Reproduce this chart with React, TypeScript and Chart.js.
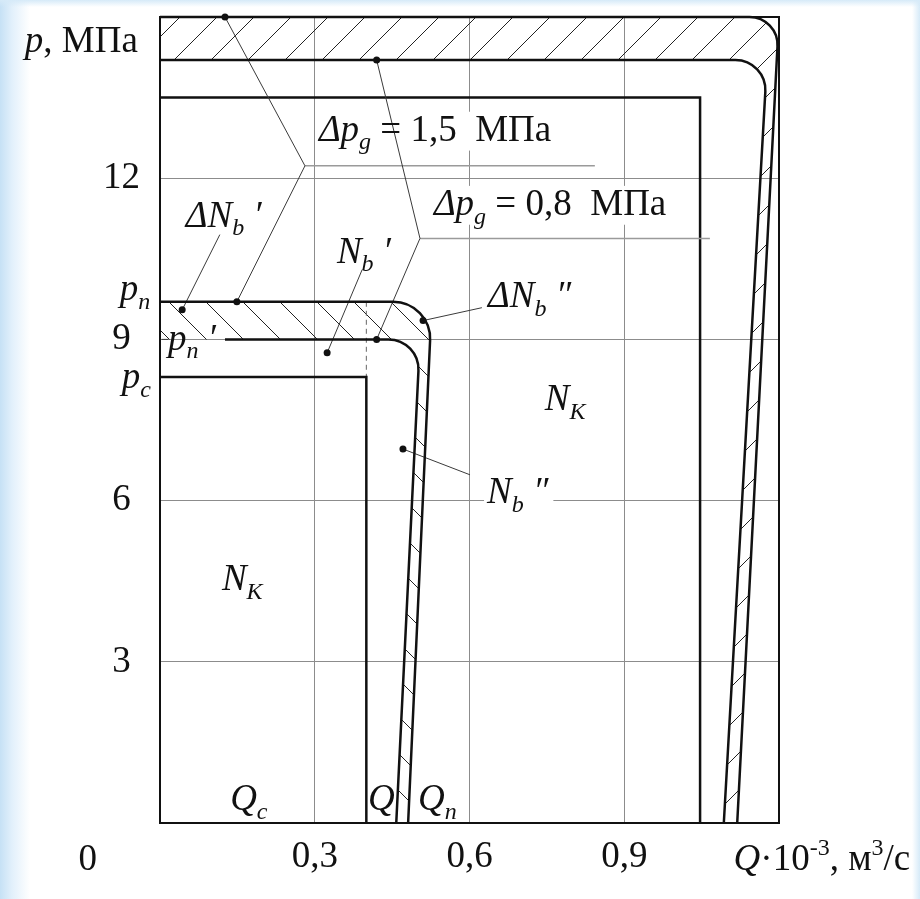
import React, { useEffect, useRef } from 'react';
import { Chart, registerables } from 'chart.js';

Chart.register(...registerables);

// ---------- axes ----------
const Q_MIN = 0;
const Q_MAX = 1.2;
const P_MIN = 0;
const P_MAX = 15;
const xTickValues = [0.3, 0.6, 0.9];
const xTickLabels = ['0,3', '0,6', '0,9'];
const yTickValues = [3, 6, 9, 12];
const yTickLabels = ['3', '6', '9', '12'];

// ---------- characteristic lines (corner vertices; corners are rounded when drawn) ----------
const outerQ = [0, 1.2, 1.119];
const outerP = [15, 15, 0];
const innerQ = [0, 1.177, 1.093];
const innerP = [14.2, 14.2, 0];
const ratedQ = [0, 1.047, 1.047];
const ratedP = [13.5, 13.5, 0];
const pnQ = [0, 0.527, 0.481];
const pnP = [9.7, 9.7, 0];
const pn2Q = [0.126, 0.504, 0.458];
const pn2P = [9.0, 9.0, 0];
const pcQ = [0, 0.4, 0.4];
const pcP = [8.3, 8.3, 0];
const qDashQ = [0.4, 0.4];
const qDashP = [9.7, 8.3];

// ---------- marker dots and leader lines ----------
const dotQ = [0.126, 0.42, 0.149, 0.42, 0.043, 0.324, 0.51, 0.471];
const dotP = [15, 14.2, 9.7, 9.0, 9.55, 8.75, 9.35, 6.96];
const lead1Q = [0.126, 0.281, 0.149];
const lead1P = [15, 12.23, 9.7];
const under1Q = [0.281, 0.843];
const under1P = [12.23, 12.23];
const lead2Q = [0.42, 0.504, 0.42];
const lead2P = [14.2, 10.88, 9.0];
const under2Q = [0.504, 1.066];
const under2P = [10.88, 10.88];
const lead3Q = [0.116, 0.043];
const lead3P = [10.95, 9.55];
const lead4Q = [0.392, 0.324];
const lead4P = [10.3, 8.75];
const lead5Q = [0.624, 0.51];
const lead5P = [9.59, 9.35];
const lead6Q = [0.601, 0.471];
const lead6P = [6.48, 6.96];
const lead7Q = [0.003, 0.016];
const lead7P = [9.0, 9.0];

// ---------- texts ----------
type Seg = { t: string; it?: boolean; sub?: boolean; sup?: boolean };
type Label = { segs: Seg[]; q: number; p: number; bg?: boolean; align?: 'left' | 'center' };

const labelTexts: Label[] = [
  { segs: [{ t: 'p', it: true }, { t: ', МПа' }], q: -0.262, p: 14.34 },
  { segs: [{ t: 'p', it: true }, { t: 'n', it: true, sub: true }], q: -0.078, p: 9.74 },
  { segs: [{ t: 'p', it: true }, { t: 'c', it: true, sub: true }], q: -0.074, p: 8.1 },
  { segs: [{ t: '0' }], q: -0.14, p: -0.88, align: 'center' },
  { segs: [{ t: 'p', it: true }, { t: 'n', it: true, sub: true }, { t: ' ′', it: true }], q: 0.0155, p: 8.81 },
  { segs: [{ t: 'Δ', it: true }, { t: 'p', it: true }, { t: 'g', it: true, sub: true }, { t: ' = 1,5  МПа' }], q: 0.308, p: 12.7, bg: true },
  { segs: [{ t: 'Δ', it: true }, { t: 'p', it: true }, { t: 'g', it: true, sub: true }, { t: ' = 0,8  МПа' }], q: 0.531, p: 11.32, bg: true },
  { segs: [{ t: 'Δ', it: true }, { t: 'N', it: true }, { t: 'b', it: true, sub: true }, { t: ' ′', it: true }], q: 0.05, p: 11.1 },
  { segs: [{ t: 'N', it: true }, { t: 'b', it: true, sub: true }, { t: ' ′', it: true }], q: 0.343, p: 10.43 },
  { segs: [{ t: 'Δ', it: true }, { t: 'N', it: true }, { t: 'b', it: true, sub: true }, { t: ' ″', it: true }], q: 0.636, p: 9.61 },
  { segs: [{ t: 'N', it: true }, { t: 'K', it: true, sub: true }], q: 0.746, p: 7.69 },
  { segs: [{ t: 'N', it: true }, { t: 'b', it: true, sub: true }, { t: ' ″', it: true }], q: 0.634, p: 5.96, bg: true },
  { segs: [{ t: 'N', it: true }, { t: 'K', it: true, sub: true }], q: 0.12, p: 4.34 },
  { segs: [{ t: 'Q', it: true }, { t: 'c', it: true, sub: true }], q: 0.136, p: 0.24 },
  { segs: [{ t: 'Q', it: true }], q: 0.403, p: 0.24 },
  { segs: [{ t: 'Q', it: true }, { t: 'n', it: true, sub: true }], q: 0.5, p: 0.24 },
  {
    segs: [{ t: 'Q', it: true }, { t: '·10' }, { t: '-3', sup: true }, { t: ', м' }, { t: '3', sup: true }, { t: '/с' }],
    q: 1.112,
    p: -0.88,
  },
];

// ---------- styles ----------
const FONT = '"Liberation Serif", "Times New Roman", serif';
const INK = '#111111';
const TEXT_SIZE = 37;
const GRID = '#8c8c8c';

const xy = (qs: number[], ps: number[]) => qs.map((q, i) => ({ x: q, y: ps[i] }));

function fontFor(seg: Seg, size: number) {
  const s = seg.sub || seg.sup ? Math.round(size * 0.66) : size;
  return `${seg.it ? 'italic ' : ''}${s}px ${FONT}`;
}

function measureRich(ctx: CanvasRenderingContext2D, segs: Seg[], size: number) {
  return segs.map((s) => {
    ctx.font = fontFor(s, size);
    return ctx.measureText(s.t).width;
  });
}

function drawRich(ctx: CanvasRenderingContext2D, lb: Label, x: number, y: number, size: number) {
  const widths = measureRich(ctx, lb.segs, size);
  const total = widths.reduce((a, b) => a + b, 0);
  let cx = lb.align === 'center' ? x - total / 2 : x;
  ctx.textBaseline = 'alphabetic';
  ctx.textAlign = 'left';
  ctx.fillStyle = INK;
  lb.segs.forEach((s, i) => {
    ctx.font = fontFor(s, size);
    const dy = s.sub ? size * 0.24 : s.sup ? -size * 0.4 : 0;
    ctx.fillText(s.t, cx, y + dy);
    cx += widths[i];
  });
}

type Pt = { x: number; y: number };

function ptsOf(chart: any, label: string): Pt[] {
  const i = chart.data.datasets.findIndex((d: any) => d.label === label);
  return chart.getDatasetMeta(i).data.map((e: any) => ({ x: e.x, y: e.y }));
}
function radiusOf(chart: any, label: string): number {
  const d = chart.data.datasets.find((d: any) => d.label === label);
  return d ? d.roundRadius || 0 : 0;
}

function trace(ctx: CanvasRenderingContext2D, pts: Pt[], r: number, first: boolean) {
  if (first) ctx.moveTo(pts[0].x, pts[0].y);
  else ctx.lineTo(pts[0].x, pts[0].y);
  for (let i = 1; i < pts.length - 1; i++) ctx.arcTo(pts[i].x, pts[i].y, pts[i + 1].x, pts[i + 1].y, r);
  ctx.lineTo(pts[pts.length - 1].x, pts[pts.length - 1].y);
}

function hatchBand(
  chart: any,
  outerLabel: string,
  innerLabel: string,
  dir: '/' | '\\',
  phase: number,
  step: number
) {
  const ctx: CanvasRenderingContext2D = chart.ctx;
  const area = chart.chartArea;
  const o = ptsOf(chart, outerLabel);
  const inn = ptsOf(chart, innerLabel);
  const axisX = chart.scales.x.getPixelForValue(Q_MIN);
  ctx.save();
  ctx.beginPath();
  trace(ctx, o, radiusOf(chart, outerLabel), true);
  trace(ctx, [...inn].reverse(), radiusOf(chart, innerLabel), false);
  ctx.lineTo(axisX, inn[0].y);
  ctx.closePath();
  ctx.clip();
  ctx.beginPath();
  const { left, right, top, bottom } = area;
  if (dir === '/') {
    const c0 = phase + step * Math.ceil((left + top - 60 - phase) / step);
    for (let c = c0; c <= right + bottom + 60; c += step) {
      ctx.moveTo(c - top, top);
      ctx.lineTo(c - bottom, bottom);
    }
  } else {
    const c0 = phase + step * Math.ceil((left - bottom - 60 - phase) / step);
    for (let c = c0; c <= right - top + 60; c += step) {
      ctx.moveTo(c + top, top);
      ctx.lineTo(c + bottom, bottom);
    }
  }
  ctx.strokeStyle = '#222';
  ctx.lineWidth = 1;
  ctx.stroke();
  ctx.restore();
}

const diagramPlugin = {
  id: 'diagram',
  beforeDatasetsDraw(chart: any) {
    const ctx: CanvasRenderingContext2D = chart.ctx;
    const xs = chart.scales.x;
    const ys = chart.scales.y;
    // white boxes behind some labels (they interrupt grid lines)
    ctx.save();
    ctx.fillStyle = '#ffffff';
    for (const lb of labelTexts) {
      if (!lb.bg) continue;
      const w = measureRich(ctx, lb.segs, TEXT_SIZE).reduce((a, b) => a + b, 0);
      const x = xs.getPixelForValue(lb.q);
      const y = ys.getPixelForValue(lb.p);
      ctx.fillRect(x - 3, y - TEXT_SIZE * 0.78, w + 8, TEXT_SIZE * 1.05);
    }
    ctx.restore();
    hatchBand(chart, 'outer', 'inner', '/', 197, 37);
    hatchBand(chart, 'pn', 'pn2', '\\', -96, 37);
  },
  afterDatasetsDraw(chart: any) {
    const ctx: CanvasRenderingContext2D = chart.ctx;
    const a = chart.chartArea;
    ctx.save();
    // frame
    ctx.strokeStyle = INK;
    ctx.lineWidth = 2;
    ctx.strokeRect(a.left, a.top, a.right - a.left, a.bottom - a.top);
    // rounded characteristic curves
    ctx.lineWidth = 2.5;
    ctx.lineJoin = 'round';
    for (const name of ['outer', 'inner', 'pn', 'pn2']) {
      ctx.beginPath();
      trace(ctx, ptsOf(chart, name), radiusOf(chart, name), true);
      ctx.stroke();
    }
    // texts
    const xs = chart.scales.x;
    const ys = chart.scales.y;
    for (const lb of labelTexts) {
      drawRich(ctx, lb, xs.getPixelForValue(lb.q), ys.getPixelForValue(lb.p), TEXT_SIZE);
    }
    ctx.restore();
  },
};

export default function App() {
  const ref = useRef<HTMLCanvasElement | null>(null);

  useEffect(() => {
    if (!ref.current) return;
    const thin = (label: string, qs: number[], ps: number[], color = '#3a3a3a', width = 1) => ({
      label,
      data: xy(qs, ps),
      showLine: true,
      borderColor: color,
      borderWidth: width,
      pointRadius: 0,
      pointHoverRadius: 0,
      fill: false,
    });
    const hiddenCurve = (label: string, qs: number[], ps: number[], r: number) => ({
      label,
      data: xy(qs, ps),
      showLine: false,
      pointRadius: 0,
      pointHoverRadius: 0,
      roundRadius: r,
    });
    const chart = new Chart(ref.current, {
      type: 'scatter',
      data: {
        datasets: [
          {
            label: 'dots',
            data: xy(dotQ, dotP),
            pointRadius: 3.5,
            pointBackgroundColor: INK,
            pointBorderWidth: 0,
            showLine: false,
            clip: 8,
          } as any,
          thin('lead1', lead1Q, lead1P),
          thin('lead2', lead2Q, lead2P),
          thin('lead3', lead3Q, lead3P),
          thin('lead4', lead4Q, lead4P),
          thin('lead5', lead5Q, lead5P),
          thin('lead6', lead6Q, lead6P),
          thin('lead7', lead7Q, lead7P),
          thin('under1', under1Q, under1P, '#9a9a9a', 1.5),
          thin('under2', under2Q, under2P, '#9a9a9a', 1.5),
          { ...thin('rated', ratedQ, ratedP, INK, 2.5), borderJoinStyle: 'miter' },
          { ...thin('pc', pcQ, pcP, INK, 2.5), borderJoinStyle: 'miter' },
          { ...thin('qdash', qDashQ, qDashP, '#666', 1), borderDash: [5, 4] },
          hiddenCurve('outer', outerQ, outerP, 28),
          hiddenCurve('inner', innerQ, innerP, 30),
          hiddenCurve('pn', pnQ, pnP, 37),
          hiddenCurve('pn2', pn2Q, pn2P, 30),
        ] as any,
      },
      options: {
        animation: false,
        responsive: false,
        maintainAspectRatio: false,
        events: [],
        layout: { padding: { left: 0, right: 141, top: 17, bottom: 0 } },
        plugins: { legend: { display: false }, tooltip: { enabled: false } },
        scales: {
          x: {
            type: 'linear',
            min: Q_MIN,
            max: Q_MAX,
            afterBuildTicks: (s: any) => {
              s.ticks = xTickValues.map((v) => ({ value: v }));
            },
            afterFit: (s: any) => {
              s.height = 76;
              s.paddingLeft = 0;
              s.paddingRight = 0;
            },
            ticks: {
              callback: (v: any) => {
                const i = xTickValues.indexOf(Number(v));
                return i >= 0 ? xTickLabels[i] : '';
              },
              font: { family: 'Liberation Serif', size: TEXT_SIZE },
              color: INK,
              padding: 12,
              maxRotation: 0,
              autoSkip: false,
            },
            grid: { color: GRID, lineWidth: 1, drawTicks: false },
            border: { display: false },
          },
          y: {
            type: 'linear',
            min: P_MIN,
            max: P_MAX,
            afterBuildTicks: (s: any) => {
              s.ticks = yTickValues.map((v) => ({ value: v }));
            },
            afterFit: (s: any) => {
              s.width = 160;
              s.paddingTop = 0;
              s.paddingBottom = 0;
            },
            ticks: {
              callback: (v: any) => {
                const i = yTickValues.indexOf(Number(v));
                return i >= 0 ? yTickLabels[i] : '';
              },
              font: { family: 'Liberation Serif', size: TEXT_SIZE },
              color: INK,
              crossAlign: 'center',
              padding: 20,
              autoSkip: false,
            },
            grid: { color: GRID, lineWidth: 1, drawTicks: false },
            border: { display: false },
          },
        },
      } as any,
      plugins: [diagramPlugin as any],
    });
    return () => chart.destroy();
  }, []);

  return (
    <div
      style={{
        position: 'fixed',
        left: 0,
        top: 0,
        width: 920,
        height: 899,
        background:
          'linear-gradient(to bottom, rgba(214,234,248,1) 0px, rgba(214,234,248,0) 7px), ' +
          'linear-gradient(to left, rgba(214,234,248,1) 0px, rgba(214,234,248,0) 8px), ' +
          'linear-gradient(to right, #c6e1f5 0px, #e2f0fb 12px, #ffffff 30px)',
      }}
    >
      <canvas ref={ref} width={920} height={899} style={{ display: 'block', width: 920, height: 899 }} />
    </div>
  );
}
